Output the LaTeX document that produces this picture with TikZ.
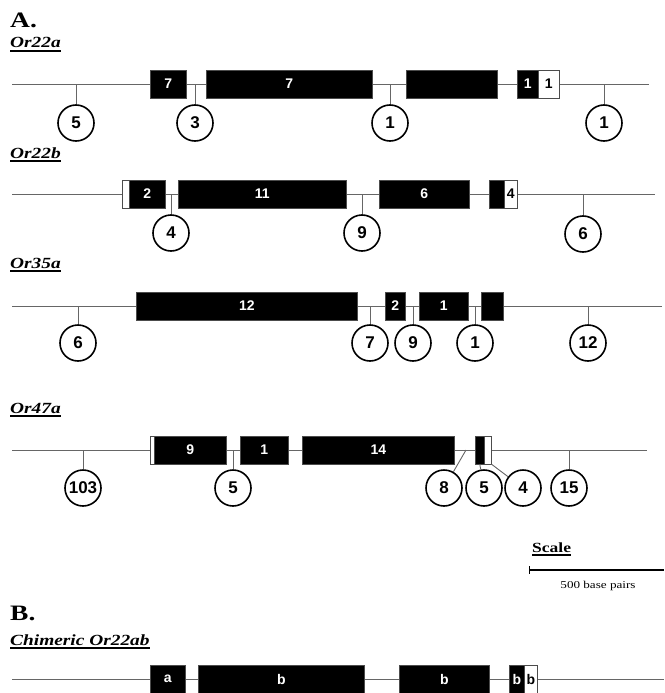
\documentclass[tikz,border=0pt]{standalone}
\usepackage{fontspec}
\setmainfont{Liberation Serif}
\newfontfamily\headfont[FakeStretch=1.25]{Liberation Serif}
\newfontfamily\arialfont{Liberation Sans}
\begin{document}
\begin{tikzpicture}[x=1pt,y=-1pt,
  gene/.style={draw=black!60, line width=0.9pt},
  tickline/.style={draw=black!60, line width=0.9pt},
  exon/.style={draw=black!70, line width=0.6pt, fill=black, text=white, inner sep=0pt,
    minimum height=28pt, anchor=west, font=\arialfont\bfseries\fontsize{14}{14}\selectfont},
  utr/.style={exon, fill=white, text=black},
  num/.style={circle, draw=black, line width=1.6pt, minimum size=36pt, inner sep=0pt,
    font=\arialfont\bfseries\fontsize{17}{17}\selectfont},
  panel/.style={anchor=base west, inner sep=0pt, font=\headfont\bfseries\fontsize{22}{22}\selectfont},
  genename/.style={anchor=base west, inner sep=0pt, font=\headfont\bfseries\itshape\fontsize{15.5}{15.5}\selectfont},
  uline/.style={draw=black, line width=1.3pt}
]
\useasboundingbox (0,0) rectangle (664,693);

% ---------- Panel A ----------
\node[panel] (A) at (10,28) {A.};

% Or22a
\node[genename] (n1) at (10,48) {Or22a};
\draw[uline] ([yshift=-3pt]n1.base west) -- ([yshift=-3pt]n1.base east);
\coordinate (g1s) at (12,84);
\coordinate (g1e) at (649,84);
\draw[gene] (g1s) -- (g1e);
\node[exon, minimum width=36] (a1) at (150,84) {7};
\node[exon, minimum width=166] (a2) at (206,84) {7};
\node[exon, minimum width=91] (a3) at (406,84) {};
\node[exon, minimum width=21] (a4) at (517,84) {1};
\node[utr, minimum width=21] (a5) at (538,84) {1};
\node[num] (ca1) at (76,123) {5};
\node[num] (ca2) at (195,123) {3};
\node[num] (ca3) at (390,123) {1};
\node[num] (ca4) at (604,123) {1};
\foreach \c in {ca1,ca2,ca3,ca4} \draw[tickline] (\c |- g1s) -- (\c);

% Or22b
\node[genename] (n2) at (10,158) {Or22b};
\draw[uline] ([yshift=-3pt]n2.base west) -- ([yshift=-3pt]n2.base east);
\coordinate (g2s) at (12,194);
\coordinate (g2e) at (655,194);
\draw[gene] (g2s) -- (g2e);
\node[utr, minimum width=7] (b0) at (122,194) {};
\node[exon, minimum width=36] (b1) at (129,194) {2};
\node[exon, minimum width=168] (b2) at (178,194) {11};
\node[exon, minimum width=90] (b3) at (379,194) {6};
\node[exon, minimum width=15] (b4) at (489,194) {};
\node[utr, minimum width=13] (b5) at (504,194) {4};
\node[num] (cb1) at (171,233) {4};
\node[num] (cb2) at (362,233) {9};
\node[num] (cb3) at (583,234) {6};
\foreach \c in {cb1,cb2,cb3} \draw[tickline] (\c |- g2s) -- (\c);

% Or35a
\node[genename] (n3) at (10,268) {Or35a};
\draw[uline] ([yshift=-3pt]n3.base west) -- ([yshift=-3pt]n3.base east);
\coordinate (g3s) at (12,306);
\coordinate (g3e) at (662,306);
\draw[gene] (g3s) -- (g3e);
\node[exon, minimum width=221] (c1) at (136,306) {12};
\node[exon, minimum width=20] (c2) at (385,306) {2};
\node[exon, minimum width=49] (c3) at (419,306) {1};
\node[exon, minimum width=22] (c4) at (481,306) {};
\node[num] (cc1) at (78,343) {6};
\node[num] (cc2) at (370,343) {7};
\node[num] (cc3) at (413,343) {9};
\node[num] (cc4) at (475,343) {1};
\node[num] (cc5) at (588,343) {12};
\foreach \c in {cc1,cc2,cc3,cc4,cc5} \draw[tickline] (\c |- g3s) -- (\c);

% Or47a
\node[genename] (n4) at (10,413) {Or47a};
\draw[uline] ([yshift=-3pt]n4.base west) -- ([yshift=-3pt]n4.base east);
\coordinate (g4s) at (12,450);
\coordinate (g4e) at (647,450);
\draw[gene] (g4s) -- (g4e);
\node[utr, minimum width=4] (d0) at (150,450) {};
\node[exon, minimum width=72] (d1) at (154,450) {9};
\node[exon, minimum width=48] (d2) at (240,450) {1};
\node[exon, minimum width=152] (d3) at (302,450) {14};
\node[exon, minimum width=9] (d4) at (475,450) {};
\node[utr, minimum width=7] (d5) at (484,450) {};
\node[num] (cd1) at (83,488) {103};
\node[num] (cd2) at (233,488) {5};
\node[num] (cd3) at (444,488) {8};
\node[num] (cd4) at (484,488) {5};
\node[num] (cd5) at (523,488) {4};
\node[num] (cd6) at (569,488) {15};
\foreach \c in {cd1,cd2,cd6} \draw[tickline] (\c |- g4s) -- (\c);
\coordinate (d8) at (466,450);
\draw[tickline] (d8) -- (cd3);
\draw[tickline] (d4.south) -- (cd4);
\draw[tickline] (d5.south east) -- (cd5);

% Scale
\node[anchor=base west, inner sep=0pt, font=\headfont\bfseries\fontsize{14}{14}\selectfont] (sc) at (532,552) {Scale};
\draw[uline] ([yshift=-3pt]sc.base west) -- ([yshift=-3pt]sc.base east);
\coordinate (s1) at (529,570);
\coordinate (s2) at (664,570);
\draw[line width=2pt] (s1) -- (s2);
\draw[line width=1pt] ([yshift=4pt]s1) -- ([yshift=-4pt]s1);
\node[anchor=base, inner sep=0pt, font=\headfont\fontsize{10.5}{10.5}\selectfont] (bp) at (598,588) {500 base pairs};

% ---------- Panel B ----------
\node[panel] (B) at (10,620) {B.};
\node[genename] (n5) at (10,645) {Chimeric Or22ab};
\draw[uline] ([yshift=-3pt]n5.base west) -- ([yshift=-3pt]n5.base east);
\coordinate (g5s) at (12,679);
\coordinate (g5e) at (664,679);
\draw[gene] (g5s) -- (g5e);
\node[exon, minimum width=35] (e1) at (150,679) {a};
\node[exon, minimum width=166] (e2) at (198,679) {b};
\node[exon, minimum width=90] (e3) at (399,679) {b};
\node[exon, minimum width=15] (e4) at (509,679) {b};
\node[utr, minimum width=13] (e5) at (524,679) {b};
\end{tikzpicture}
\end{document}
